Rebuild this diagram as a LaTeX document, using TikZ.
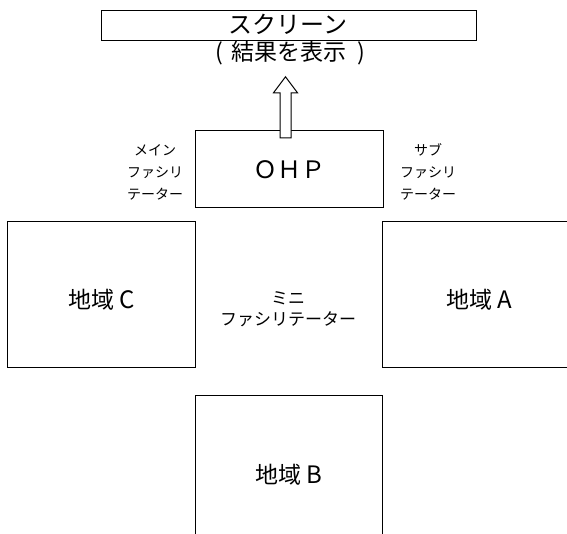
\documentclass[tikz,border=0pt]{standalone}
\usepackage{fontspec}
\setmainfont{Noto Sans CJK JP}
\newcommand{\wideL}[1]{\hspace{5pt}{\fontsize{24pt}{24pt}\selectfont #1}}
\begin{document}
\begin{tikzpicture}[x=1pt,y=-1pt,
  lbl/.style={inner sep=0pt,align=center},
  big/.style={lbl,font=\fontsize{23pt}{26pt}\selectfont},
  mid/.style={lbl,font=\fontsize{17pt}{21pt}\selectfont},
  small/.style={lbl,font=\fontsize{14pt}{22pt}\selectfont},
  region/.style={inner sep=0pt},
  edge/.style={line width=1pt,black},
  ]
\useasboundingbox (0,0) rectangle (567,533);
\clip (0,0) rectangle (567,533);
% screen
\node[region,minimum width=374pt,minimum height=29pt] (screen) at (289,25.5) {};
\draw[edge] (screen.north west) rectangle (screen.south east);
\node[big,font=\fontsize{24pt}{26pt}\selectfont] (scrtxt) at (288,24) {スクリーン};
\node[big] (result) at (290,53) {(\hspace{9pt}結果を表示\hspace{10pt})};
% OHP
\node[region,minimum width=187pt,minimum height=76pt] (ohp) at (289.5,169) {};
\draw[edge] (ohp.north west) rectangle (ohp.south east);
\node[big,font=\fontsize{24pt}{26pt}\selectfont] (ohptxt) at (289,170) {ＯＨＰ};
% hollow arrow
\coordinate (ab) at ([yshift=-7pt]ohp.north -| 285.5,0);
\draw[edge,fill=white] ([xshift=-5.5pt]ab) -- ([xshift=-5.5pt,yshift=45pt]ab)
  -- ([xshift=-12pt,yshift=45pt]ab) -- ([yshift=61pt]ab)
  -- ([xshift=12pt,yshift=45pt]ab) -- ([xshift=5.5pt,yshift=45pt]ab)
  -- ([xshift=5.5pt]ab) -- cycle;
% side labels
\node[small] (mainf) at (155,172) {メイン\\ファシリ\\テーター};
\node[small] (subf) at (428,172) {サブ\\ファシリ\\テーター};
% region C
\node[region,minimum width=187pt,minimum height=145pt] (C) at (101.5,294.5) {};
\draw[edge] (C.north west) rectangle (C.south east);
\node[big] (ctxt) at (102,300) {地域\wideL{C}};
% region A
\node[region,minimum width=200pt,minimum height=145pt] (A) at (483,294.5) {};
\draw[edge] (A.north east) -- (A.north west) -- (A.south west) -- (A.south east);
\node[big] (atxt) at (479,300) {地域\wideL{A}};
% mini
\node[mid] (mini) at (288,309) {ミニ\\ファシリテーター};
% region B
\node[region,minimum width=186pt,minimum height=160pt] (B) at (289,476) {};
\draw[edge] (B.south west) -- (B.north west) -- (B.north east) -- (B.south east);
\node[big] (btxt) at (289,475) {地域\wideL{B}};
\end{tikzpicture}
\end{document}
